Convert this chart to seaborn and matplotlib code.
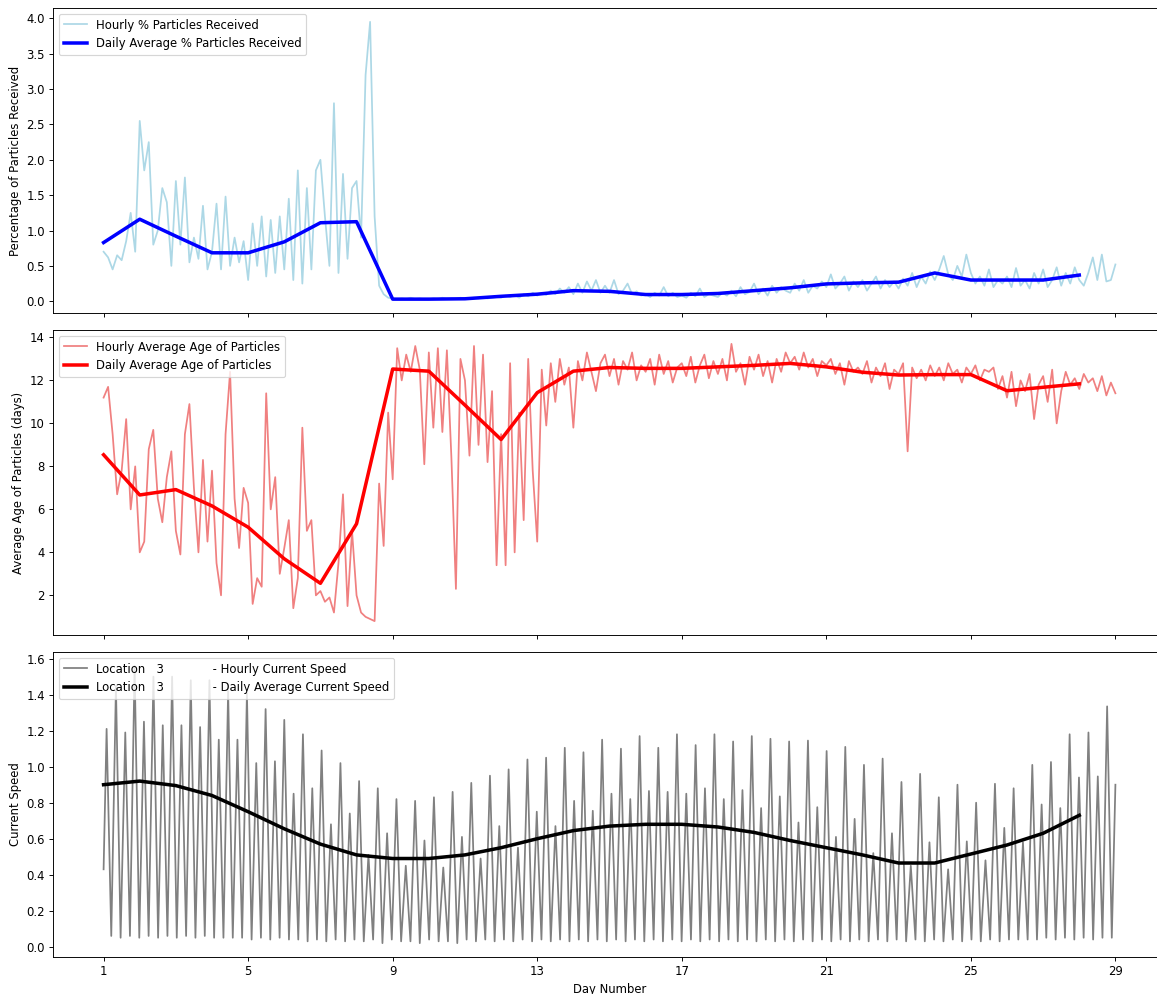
import numpy as np
import pandas as pd
import matplotlib
matplotlib.use("Agg")
import matplotlib.pyplot as plt
import seaborn as sns

# ---------------- data ----------------
day_numbers = list(range(1, 29))
x_ticks = [1, 5, 9, 13, 17, 21, 25, 29]

# 3-hourly samples of % particles received (8 per day, days 1..28, + final value at day 29)
pct_hourly = [
    0.70, 0.62, 0.45, 0.65, 0.58, 0.85, 1.25, 0.70,
    2.55, 1.85, 2.25, 0.80, 1.00, 1.60, 1.40, 0.50,
    1.70, 0.80, 1.75, 0.55, 0.90, 0.60, 1.35, 0.45,
    0.70, 1.38, 0.45, 1.48, 0.50, 0.90, 0.55, 0.85,
    0.30, 1.10, 0.50, 1.20, 0.35, 1.15, 0.40, 1.20,
    0.45, 1.45, 0.30, 1.85, 0.25, 1.60, 0.45, 1.85,
    2.00, 1.20, 0.50, 2.80, 0.40, 1.80, 0.60, 1.60,
    1.70, 0.90, 3.20, 3.95, 1.20, 0.22, 0.10, 0.05,
    0.04, 0.03, 0.04, 0.03, 0.05, 0.03, 0.04, 0.03,
    0.03, 0.04, 0.03, 0.05, 0.03, 0.04, 0.03, 0.05,
    0.04, 0.03, 0.05, 0.04, 0.06, 0.04, 0.05, 0.06,
    0.05, 0.08, 0.06, 0.09, 0.05, 0.10, 0.07, 0.12,
    0.08, 0.12, 0.09, 0.15, 0.10, 0.18, 0.12, 0.20,
    0.10, 0.25, 0.12, 0.28, 0.15, 0.30, 0.12, 0.22,
    0.12, 0.30, 0.10, 0.15, 0.25, 0.10, 0.14, 0.08,
    0.10, 0.06, 0.12, 0.08, 0.20, 0.07, 0.12, 0.06,
    0.08, 0.05, 0.12, 0.07, 0.18, 0.06, 0.10, 0.08,
    0.06, 0.12, 0.08, 0.15, 0.07, 0.20, 0.10, 0.13,
    0.25, 0.10, 0.18, 0.08, 0.22, 0.12, 0.20, 0.15,
    0.12, 0.25, 0.15, 0.30, 0.12, 0.22, 0.18, 0.28,
    0.20, 0.38, 0.18, 0.25, 0.35, 0.15, 0.28, 0.20,
    0.30, 0.15, 0.25, 0.35, 0.18, 0.30, 0.20, 0.28,
    0.18, 0.32, 0.22, 0.40, 0.20, 0.35, 0.25, 0.42,
    0.30, 0.45, 0.64, 0.38, 0.30, 0.50, 0.35, 0.66,
    0.40, 0.25, 0.35, 0.22, 0.45, 0.20, 0.30, 0.25,
    0.35, 0.20, 0.47, 0.22, 0.30, 0.18, 0.40, 0.25,
    0.45, 0.20, 0.30, 0.48, 0.22, 0.40, 0.25, 0.48,
    0.30, 0.22, 0.40, 0.62, 0.30, 0.66, 0.28, 0.30,
    0.52,
]
pct_daily = [0.83, 1.16, 0.92, 0.685, 0.685, 0.84, 1.11, 1.125, 0.03, 0.03,
             0.035, 0.07, 0.10, 0.15, 0.14, 0.095, 0.095, 0.11, 0.15, 0.19,
             0.245, 0.26, 0.27, 0.40, 0.30, 0.30, 0.30, 0.37]

# 3-hourly samples of average particle age (days)
age_hourly = [
    11.2, 11.7, 9.5, 6.7, 7.8, 10.2, 6.0, 8.0,
    4.0, 4.5, 8.8, 9.7, 6.5, 5.4, 7.5, 8.7,
    5.0, 3.9, 9.5, 10.9, 7.0, 4.0, 8.3, 4.5,
    7.8, 3.5, 2.0, 9.5, 12.4, 6.5, 4.2, 7.0,
    6.3, 1.6, 2.8, 2.4, 11.4, 6.0, 7.5, 3.0,
    4.2, 5.5, 1.4, 2.8, 9.8, 5.0, 5.5, 2.0,
    2.2, 1.7, 1.9, 1.2, 3.5, 6.7, 1.5, 5.0,
    2.0, 1.2, 1.0, 0.9, 0.8, 7.2, 4.3, 10.5,
    7.4, 13.5, 12.0, 13.2, 12.4, 13.6, 12.5, 8.1,
    13.3, 9.8, 13.5, 9.6, 13.4, 8.4, 2.3, 13.0,
    12.0, 8.5, 13.6, 9.0, 13.2, 8.2, 11.5, 3.4,
    9.5, 3.4, 12.8, 4.0, 10.5, 5.5, 13.0, 7.8,
    4.5, 12.5, 9.9, 12.8, 11.0, 13.0, 11.8, 12.6,
    9.8, 12.9, 12.0, 13.3, 12.4, 11.5, 12.8, 13.2,
    12.2, 13.0, 11.8, 12.9, 12.5, 13.3, 12.0, 12.7,
    12.4, 13.0, 11.8, 13.2, 12.3, 12.9, 11.9, 12.6,
    12.8, 12.2, 13.1, 11.9, 12.7, 13.2, 12.1, 12.9,
    12.3, 13.0, 12.0, 13.7, 12.4, 12.8, 11.8, 13.1,
    12.5, 13.2, 12.2, 12.9, 11.9, 13.0, 12.4, 13.3,
    12.8, 13.1, 12.5, 13.3, 12.6, 13.0, 12.2, 12.9,
    12.7, 13.0, 12.3, 12.8, 11.8, 12.9, 12.4, 12.6,
    12.3, 12.9, 11.9, 12.6, 12.2, 12.8, 11.6, 12.5,
    12.3, 12.8, 8.7, 12.6, 12.1, 12.5, 12.0, 12.7,
    12.2, 12.6, 12.0, 12.8, 12.3, 12.5, 11.9, 12.6,
    12.3, 12.7, 12.0, 12.5, 12.4, 12.6, 11.6, 12.2,
    11.2, 12.4, 10.8, 12.0, 11.5, 12.3, 10.2, 11.8,
    12.2, 11.0, 12.5, 10.0, 11.5, 12.4, 11.8, 12.1,
    11.6, 12.3, 11.9, 12.1, 11.5, 12.2, 11.3, 11.9,
    11.4,
]
age_daily = [8.54, 6.67, 6.92, 6.16, 5.17, 3.70, 2.56, 5.33, 12.53, 12.43,
             10.85, 9.25, 11.43, 12.43, 12.60, 12.56, 12.56, 12.63, 12.70, 12.79,
             12.63, 12.38, 12.25, 12.27, 12.27, 11.52, 11.68, 11.84]

# current speed: tidal maxima and slack minima (hours since start)
cur_start = [0.0, 0.43]
cur_end = [672.0, 0.90]
peak_hours = [
    2.0, 8.2, 14.4, 20.6, 26.8, 33.1, 39.3, 45.5, 51.7, 57.9, 64.1, 70.3, 76.5, 82.7,
    88.9, 95.2, 101.4, 107.6, 113.8, 120.0, 126.2, 132.4, 138.6, 144.8, 151.0, 157.3,
    163.5, 169.7, 175.9, 182.1, 188.3, 194.5, 200.7, 206.9, 213.1, 219.4, 225.6, 231.8,
    238.0, 244.2, 250.4, 256.6, 262.8, 269.0, 275.2, 281.5, 287.7, 293.9, 300.1, 306.3,
    312.5, 318.7, 324.9, 331.1, 337.3, 343.6, 349.8, 356.0, 362.2, 368.4, 374.6, 380.8,
    387.0, 393.2, 399.4, 405.7, 411.9, 418.1, 424.3, 430.5, 436.7, 442.9, 449.1, 455.3,
    461.5, 467.8, 474.0, 480.2, 486.4, 492.6, 498.8, 505.0, 511.2, 517.4, 523.6, 529.9,
    536.1, 542.3, 548.5, 554.7, 560.9, 567.1, 573.3, 579.5, 585.7, 592.0, 598.2, 604.4,
    610.6, 616.8, 623.0, 629.2, 635.4, 641.6, 647.8, 654.1, 660.3, 666.5,
]
peak_speeds = [
    1.21, 1.45, 1.19, 1.56, 1.25, 1.50, 1.23, 1.50, 1.23, 1.48, 1.22, 1.48, 1.15, 1.42, 1.15, 1.41,
    1.02, 1.32, 1.03, 1.26, 0.85, 1.18, 0.88, 1.09, 0.68, 1.02, 0.74, 0.92, 0.51, 0.88, 0.63, 0.82,
    0.45, 0.81, 0.59, 0.83, 0.44, 0.86, 0.61, 0.91,
    0.49, 0.95, 0.67, 0.985, 0.55, 1.04, 0.75, 1.05, 0.67, 1.105, 0.81, 1.08, 0.755, 1.15, 0.85,
    1.10, 0.82, 1.17, 0.865, 1.105, 0.86, 1.18, 0.85, 1.12, 0.88, 1.18, 0.82, 1.14, 0.87, 1.17,
    0.77, 1.155, 0.835, 1.14, 0.69, 1.145, 0.775, 1.087, 0.61,
    1.11, 0.71, 1.01, 0.52, 1.045, 0.63, 0.915, 0.45, 0.96, 0.58, 0.83, 0.43, 0.90, 0.585, 0.80,
    0.48, 0.905, 0.66, 0.88, 0.58, 1.01, 0.79, 1.026, 0.77, 1.18, 0.94, 1.19, 0.946, 1.335,
]
trough_hours = [
    5.1, 11.3, 17.5, 23.7, 29.9, 36.2, 42.4, 48.6, 54.8, 61.0, 67.2, 73.4, 79.6, 85.8,
    92.0, 98.3, 104.5, 110.7, 116.9, 123.1, 129.3, 135.5, 141.7, 147.9, 154.1, 160.4,
    166.6, 172.8, 179.0, 185.2, 191.4, 197.6, 203.8, 210.0, 216.2, 222.5, 228.7, 234.9,
    241.1, 247.3, 253.5, 259.7, 265.9, 272.1, 278.3, 284.6, 290.8, 297.0, 303.2, 309.4,
    315.6, 321.8, 328.0, 334.2, 340.4, 346.7, 352.9, 359.1, 365.3, 371.5, 377.7, 383.9,
    390.1, 396.3, 402.5, 408.8, 415.0, 421.2, 427.4, 433.6, 439.8, 446.0, 452.2, 458.4,
    464.6, 470.9, 477.1, 483.3, 489.5, 495.7, 501.9, 508.1, 514.3, 520.5, 526.7, 533.0,
    539.2, 545.4, 551.6, 557.8, 564.0, 570.2, 576.4, 582.6, 588.8, 595.1, 601.3, 607.5,
    613.7, 619.9, 626.1, 632.3, 638.5, 644.7, 650.9, 657.2, 663.4, 669.6,
]
trough_speeds = [
    0.06, 0.05, 0.06, 0.05, 0.06, 0.05, 0.06, 0.05, 0.06, 0.05, 0.06, 0.05, 0.05, 0.05, 0.05, 0.04,
    0.05, 0.04, 0.05, 0.04, 0.04, 0.03, 0.04, 0.03, 0.04, 0.03, 0.04, 0.03, 0.04, 0.02, 0.04, 0.03,
    0.03, 0.02, 0.04, 0.03, 0.03, 0.02, 0.04, 0.03, 0.04, 0.03, 0.04, 0.03, 0.04, 0.03, 0.04, 0.03,
    0.04, 0.03, 0.04, 0.03, 0.04, 0.03, 0.04, 0.03, 0.04, 0.03, 0.04, 0.03, 0.04, 0.03, 0.04, 0.03,
    0.04, 0.03, 0.04, 0.03, 0.04, 0.03, 0.04, 0.03, 0.04, 0.03, 0.04, 0.03, 0.04, 0.03, 0.04, 0.03,
    0.04, 0.03, 0.04, 0.03, 0.04, 0.03, 0.04, 0.03, 0.04, 0.03, 0.04, 0.03, 0.04, 0.03, 0.04, 0.03,
    0.04, 0.04, 0.04, 0.04, 0.05, 0.04, 0.05, 0.04, 0.05, 0.04, 0.05, 0.05,
]
speed_daily = [0.90, 0.92, 0.895, 0.84, 0.75, 0.655, 0.57, 0.51, 0.49, 0.49,
               0.51, 0.55, 0.60, 0.645, 0.67, 0.68, 0.68, 0.665, 0.635, 0.59,
               0.55, 0.51, 0.465, 0.465, 0.515, 0.565, 0.63, 0.73]

location = "3"

# ---------------- assemble ----------------
sample_step_hours = 3
pct_days = 1 + np.arange(len(pct_hourly)) * sample_step_hours / 24.0
age_days = 1 + np.arange(len(age_hourly)) * sample_step_hours / 24.0

cur_h = [cur_start[0]]
cur_v = [cur_start[1]]
for ph, pv, th, tv in zip(peak_hours, peak_speeds, trough_hours, trough_speeds):
    cur_h += [ph, th]
    cur_v += [pv, tv]
cur_h.append(cur_end[0])
cur_v.append(cur_end[1])
cur_df = pd.DataFrame({"day": 1 + np.array(cur_h) / 24.0, "speed": cur_v})

pct_df = pd.DataFrame({"day": pct_days, "pct": pct_hourly})
age_df = pd.DataFrame({"day": age_days, "age": age_hourly})
daily_df = pd.DataFrame({"day": day_numbers, "pct": pct_daily,
                         "age": age_daily, "speed": speed_daily})

# ---------------- plot ----------------
W, H = 1157, 994
DPI = 84
fig, axes = plt.subplots(3, 1, sharex=True, figsize=(W / DPI, H / DPI), dpi=DPI)
fig.subplots_adjust(left=53 / W, right=1166 / W, top=1 - 8 / H, bottom=1 - 957 / H,
                    hspace=17 / 305)

ax1, ax2, ax3 = axes

sns.lineplot(data=pct_df, x="day", y="pct", ax=ax1, color="lightblue", linewidth=1.5,
             estimator=None, label="Hourly % Particles Received")
sns.lineplot(data=daily_df, x="day", y="pct", ax=ax1, color="blue", linewidth=3,
             estimator=None, label="Daily Average % Particles Received")
ax1.set_ylabel("Percentage of Particles Received")
ax1.set_xlabel("")
ax1.legend(loc="upper left")

sns.lineplot(data=age_df, x="day", y="age", ax=ax2, color="lightcoral", linewidth=1.5,
             estimator=None, label="Hourly Average Age of Particles")
sns.lineplot(data=daily_df, x="day", y="age", ax=ax2, color="red", linewidth=3,
             estimator=None, label="Daily Average Age of Particles")
ax2.set_ylabel("Average Age of Particles (days)")
ax2.set_xlabel("")
ax2.legend(loc="upper left")

sns.lineplot(data=cur_df, x="day", y="speed", ax=ax3, color="grey", linewidth=1.5,
             estimator=None, label=f"Location   {location}             - Hourly Current Speed")
sns.lineplot(data=daily_df, x="day", y="speed", ax=ax3, color="black", linewidth=3,
             estimator=None, label=f"Location   {location}             - Daily Average Current Speed")
ax3.set_ylabel("Current Speed")
ax3.set_xlabel("Day Number")
ax3.legend(loc="upper left")

ax3.set_xticks(x_ticks)
ax3.set_xticklabels([str(t) for t in x_ticks])

fig.savefig("out.png", dpi=DPI)
